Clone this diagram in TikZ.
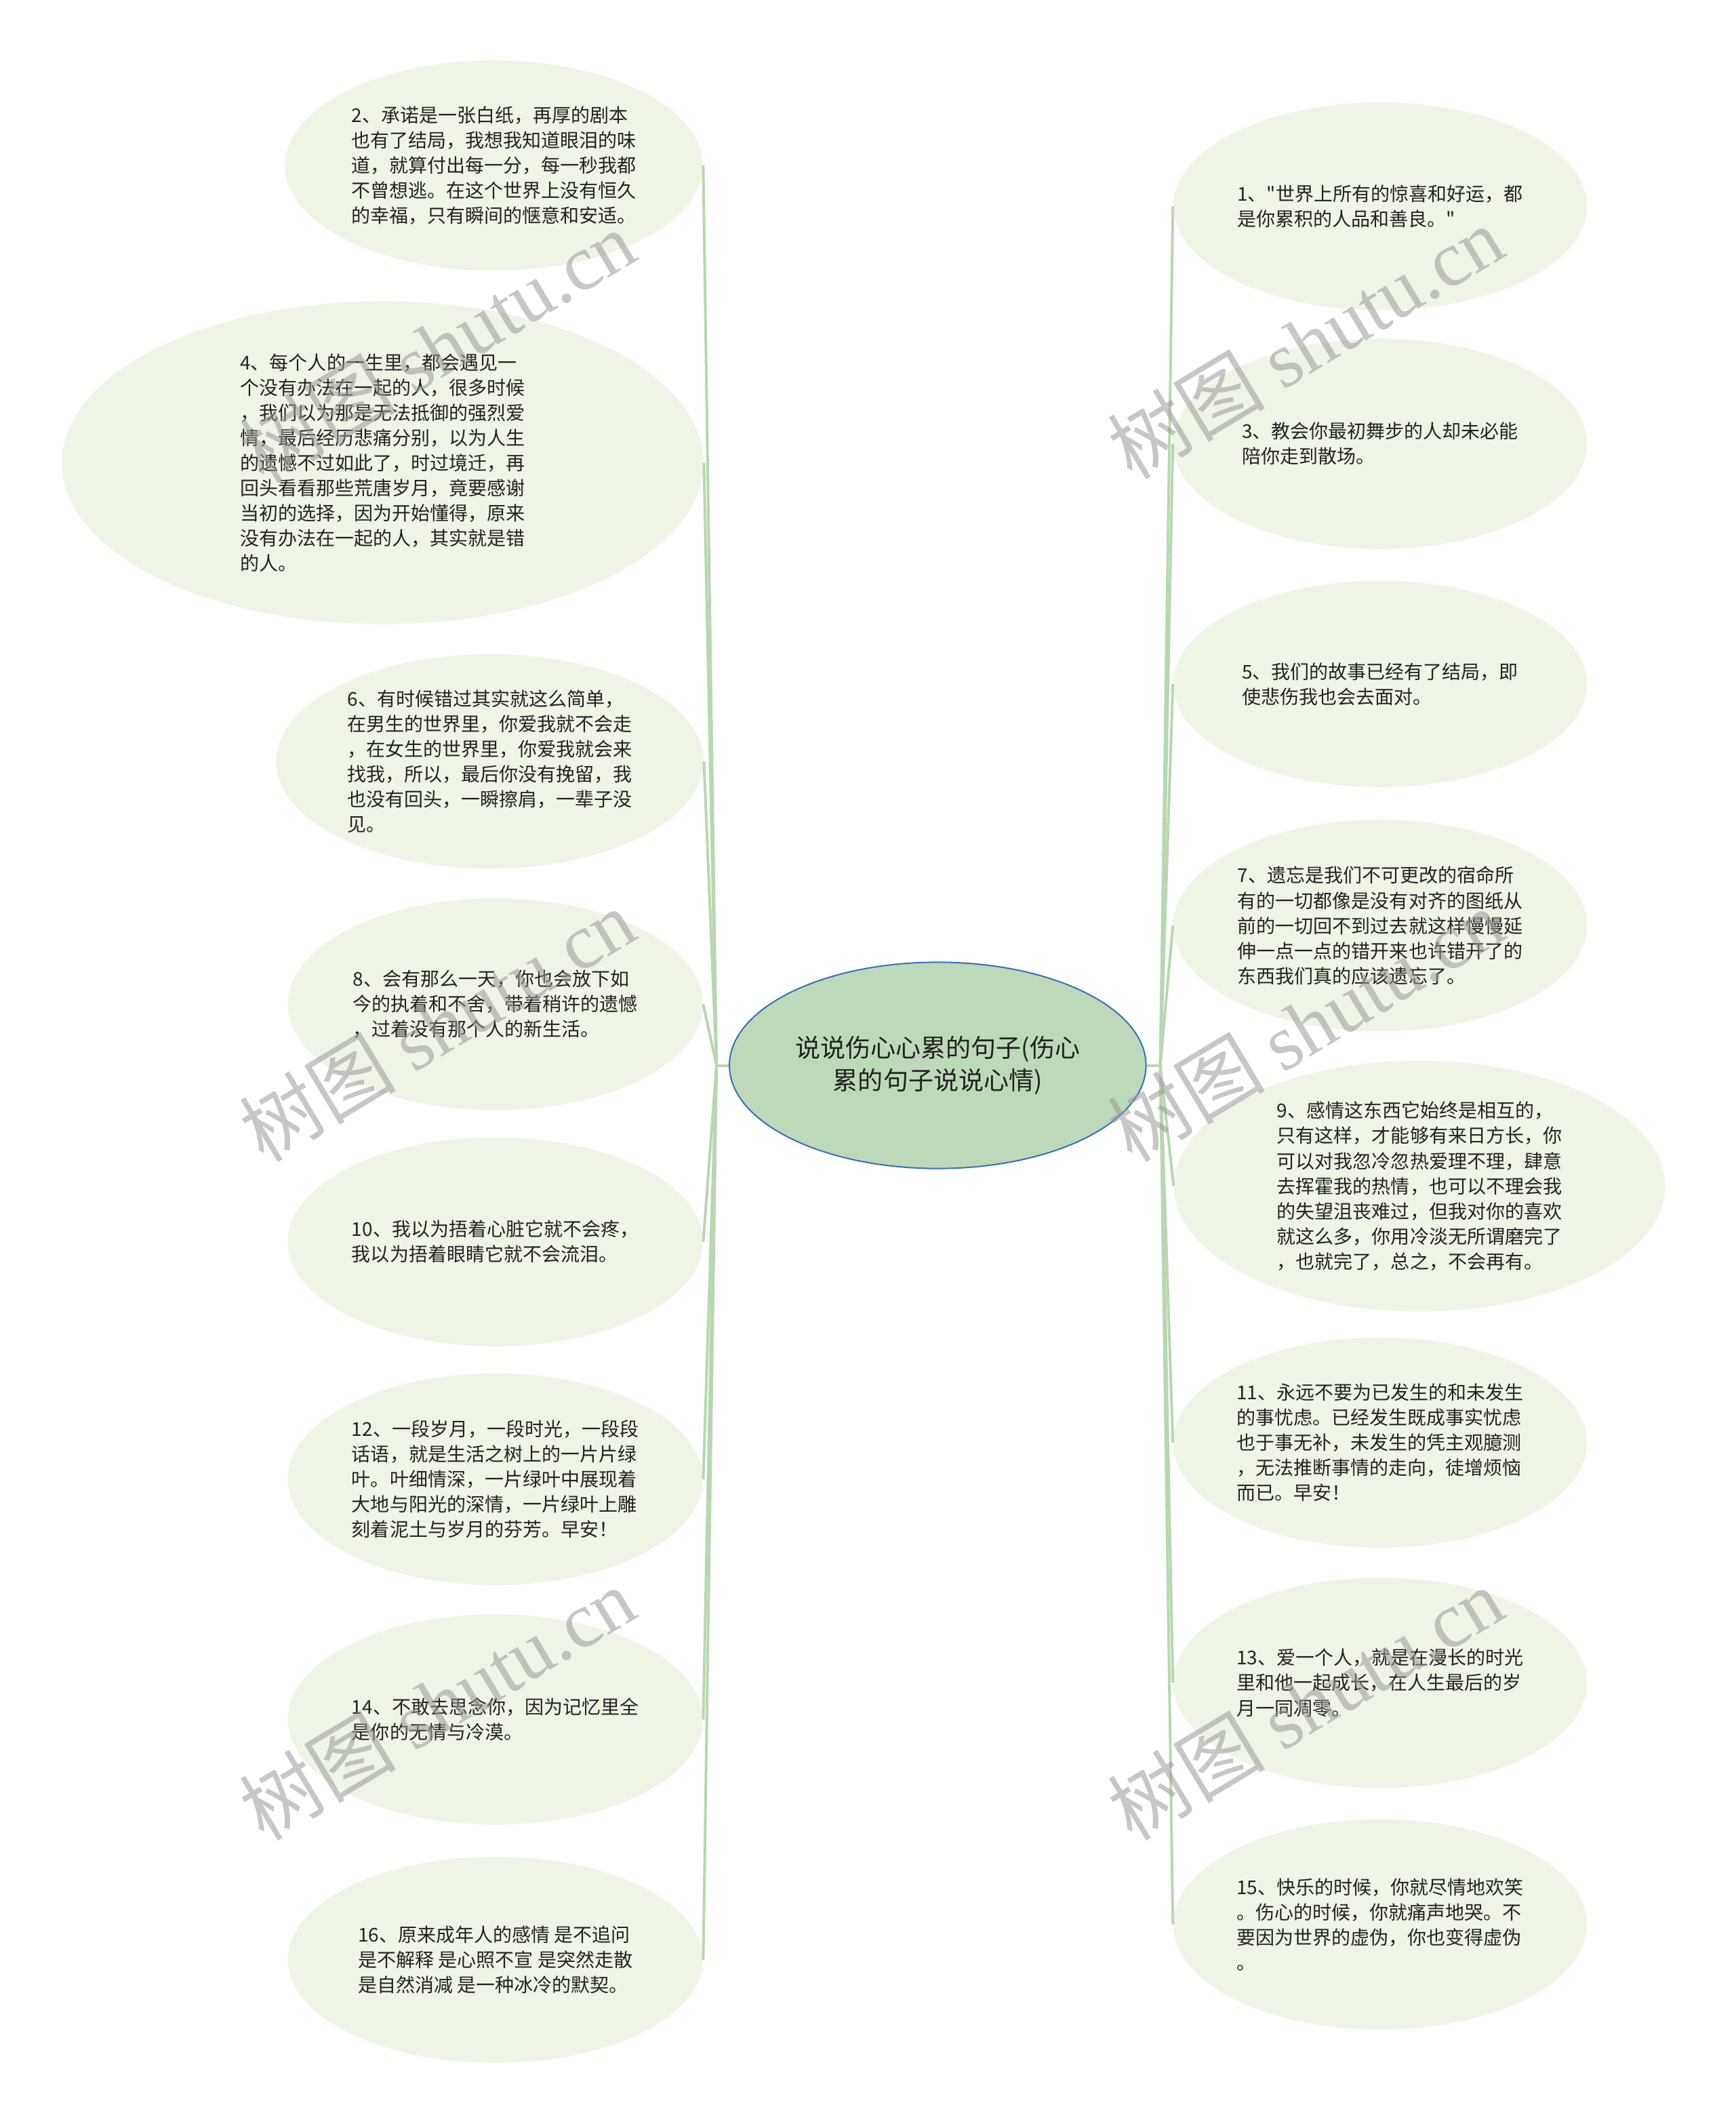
\documentclass[tikz,border=0pt]{standalone}
\usepackage{fontspec}
\newfontfamily\cjk{Noto Sans CJK SC}
\newfontfamily\wmserif{Liberation Serif}
\usetikzlibrary{shapes.geometric}
\definecolor{leaffill}{RGB}{239,245,230}
\definecolor{rootfill}{RGB}{190,217,185}
\definecolor{rootline}{RGB}{52,112,190}
\definecolor{linkgreen}{RGB}{185,214,178}
\definecolor{inkgray}{RGB}{34,34,34}

\begin{document}
\begin{tikzpicture}[x=1pt,y=-1pt,
  leaf/.style={ellipse,fill=leaffill,inner sep=0pt,align=left,text=inkgray,
    font=\cjk\fontsize{14pt}{18.5pt}\selectfont},
  root/.style={ellipse,fill=rootfill,draw=rootline,line width=1pt,inner sep=0pt,
    align=center,text=inkgray,font=\cjk\fontsize{18.5pt}{24pt}\selectfont,
    minimum width=307,minimum height=152},
  link/.style={draw=linkgreen,line width=2pt},
  wmark/.style={rotate=31,text=black!40,opacity=0.55,font=\fontsize{58pt}{60pt}\selectfont}]
  \useasboundingbox (0,0) rectangle (1279,1568);

  % 中心主题
  \node[root] (root) at (691,785) {说说伤心心累的句子(伤心\\累的句子说说心情)};

  % 左侧分支
  \node[leaf,minimum width=308,minimum height=155] (l2) at (364,122) {2、承诺是一张白纸，再厚的剧本\\
    也有了结局，我想我知道眼泪的味\\
    道，就算付出每一分，每一秒我都\\
    不曾想逃。在这个世界上没有恒久\\
    的幸福，只有瞬间的惬意和安适。};
  \node[leaf,minimum width=473,minimum height=238] (l4) at (282,341) {4、每个人的一生里，都会遇见一\\
    个没有办法在一起的人，很多时候\\
    ，我们以为那是无法抵御的强烈爱\\
    情，最后经历悲痛分别，以为人生\\
    的遗憾不过如此了，时过境迁，再\\
    回头看看那些荒唐岁月，竟要感谢\\
    当初的选择，因为开始懂得，原来\\
    没有办法在一起的人，其实就是错\\
    的人。};
  \node[leaf,minimum width=315,minimum height=158] (l6) at (361,561) {6、有时候错过其实就这么简单，\\
    在男生的世界里，你爱我就不会走\\
    ，在女生的世界里，你爱我就会来\\
    找我，所以，最后你没有挽留，我\\
    也没有回头，一瞬擦肩，一辈子没\\
    见。};
  \node[leaf,minimum width=306,minimum height=156] (l8) at (365,740) {8、会有那么一天，你也会放下如\\
    今的执着和不舍，带着稍许的遗憾\\
    ，过着没有那个人的新生活。};
  \node[leaf,minimum width=306,minimum height=154] (l10) at (365,915) {10、我以为捂着心脏它就不会疼，\\
    我以为捂着眼睛它就不会流泪。};
  \node[leaf,minimum width=306,minimum height=156] (l12) at (365,1090) {12、一段岁月，一段时光，一段段\\
    话语，就是生活之树上的一片片绿\\
    叶。叶细情深，一片绿叶中展现着\\
    大地与阳光的深情，一片绿叶上雕\\
    刻着泥土与岁月的芬芳。早安！};
  \node[leaf,minimum width=306,minimum height=155] (l14) at (365,1267) {14、不敢去思念你，因为记忆里全\\
    是你的无情与冷漠。};
  \node[leaf,minimum width=306,minimum height=152] (l16) at (365,1444) {16、原来成年人的感情 是不追问\\
    是不解释 是心照不宣 是突然走散\\
    是自然消减 是一种冰冷的默契。};

  % 右侧分支
  \node[leaf,minimum width=305,minimum height=153] (r1) at (1017,152) {1、"世界上所有的惊喜和好运，都\\
    是你累积的人品和善良。"};
  \node[leaf,minimum width=305,minimum height=155] (r3) at (1017,327) {3、教会你最初舞步的人却未必能\\
    陪你走到散场。};
  \node[leaf,minimum width=305,minimum height=152] (r5) at (1017,504) {5、我们的故事已经有了结局，即\\
    使悲伤我也会去面对。};
  \node[leaf,minimum width=305,minimum height=156] (r7) at (1017,682) {7、遗忘是我们不可更改的宿命所\\
    有的一切都像是没有对齐的图纸从\\
    前的一切回不到过去就这样慢慢延\\
    伸一点一点的错开来也许错开了的\\
    东西我们真的应该遗忘了。};
  \node[leaf,minimum width=362,minimum height=185] (r9) at (1046,874) {9、感情这东西它始终是相互的，\\
    只有这样，才能够有来日方长，你\\
    可以对我忽冷忽热爱理不理，肆意\\
    去挥霍我的热情，也可以不理会我\\
    的失望沮丧难过，但我对你的喜欢\\
    就这么多，你用冷淡无所谓磨完了\\
    ，也就完了，总之，不会再有。};
  \node[leaf,minimum width=305,minimum height=155] (r11) at (1017,1063) {11、永远不要为已发生的和未发生\\
    的事忧虑。已经发生既成事实忧虑\\
    也于事无补，未发生的凭主观臆测\\
    ，无法推断事情的走向，徒增烦恼\\
    而已。早安！};
  \node[leaf,minimum width=305,minimum height=155] (r13) at (1017,1240) {13、爱一个人，就是在漫长的时光\\
    里和他一起成长，在人生最后的岁\\
    月一同凋零。};
  \node[leaf,minimum width=305,minimum height=155] (r15) at (1017,1418) {15、快乐的时候，你就尽情地欢笑\\
    。伤心的时候，你就痛声地哭。不\\
    要因为世界的虚伪，你也变得虚伪\\
    。};

  % 连线
  \coordinate (lhub) at (528,785);
  \coordinate (rhub) at (855,785);
  \draw[link] (root.west) -- (lhub);
  \draw[link] (root.east) -- (rhub);
  \draw[link] (lhub) -- (l2.east);
  \draw[link] (lhub) -- (l4.east);
  \draw[link] (lhub) -- (l6.east);
  \draw[link] (lhub) -- (l8.east);
  \draw[link] (lhub) -- (l10.east);
  \draw[link] (lhub) -- (l12.east);
  \draw[link] (lhub) -- (l14.east);
  \draw[link] (lhub) -- (l16.east);
  \draw[link] (rhub) -- (r1.west);
  \draw[link] (rhub) -- (r3.west);
  \draw[link] (rhub) -- (r5.west);
  \draw[link] (rhub) -- (r7.west);
  \draw[link] (rhub) -- (r9.west);
  \draw[link] (rhub) -- (r11.west);
  \draw[link] (rhub) -- (r13.west);
  \draw[link] (rhub) -- (r15.west);

  % 水印
  \node[wmark] (wm1) at (322,255) {\cjk 树图 \wmserif shutu.cn};
  \node[wmark] (wm2) at (962,252) {\cjk 树图 \wmserif shutu.cn};
  \node[wmark] (wm3) at (322,755) {\cjk 树图 \wmserif shutu.cn};
  \node[wmark] (wm4) at (962,755) {\cjk 树图 \wmserif shutu.cn};
  \node[wmark] (wm5) at (322,1255) {\cjk 树图 \wmserif shutu.cn};
  \node[wmark] (wm6) at (962,1255) {\cjk 树图 \wmserif shutu.cn};
\end{tikzpicture}
\end{document}
